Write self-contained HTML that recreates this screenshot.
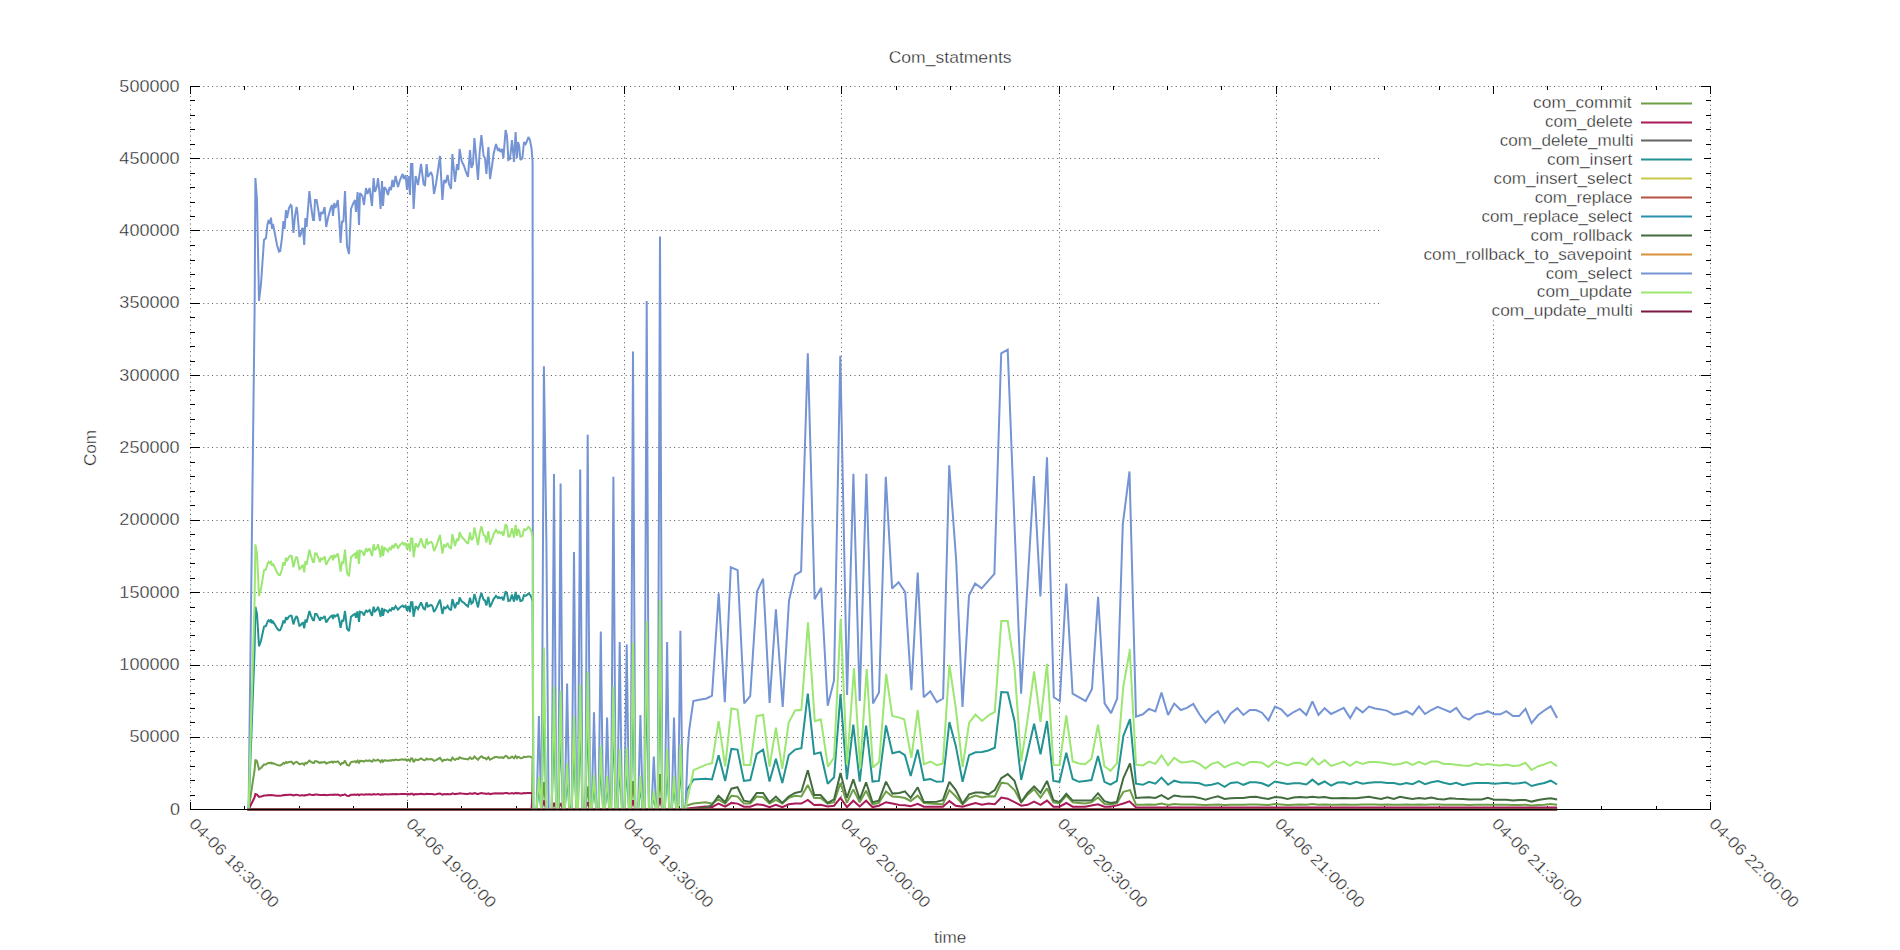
<!DOCTYPE html><html><head><meta charset="utf-8"><style>html,body{margin:0;padding:0;background:#fff;}svg{display:block;}text{font-family:"Liberation Sans",sans-serif;fill:#1a1a1a;stroke:#fff;stroke-width:0.35px;}</style></head><body>
<svg width="1900" height="950" viewBox="0 0 1900 950">
<rect x="0" y="0" width="1900" height="950" fill="#fff"/>
<path d="M190.1,809.5H1710.5M190.1,737.5H1710.5M190.1,665.5H1710.5M190.1,592.5H1710.5M190.1,520.5H1710.5M190.1,447.5H1710.5M190.1,375.5H1710.5M190.1,303.5H1710.5M190.1,230.5H1710.5M190.1,158.5H1710.5M190.1,86.5H1710.5M190.5,87.12V809.5M407.5,87.12V809.5M624.5,87.12V809.5M841.5,87.12V809.5M1059.5,87.12V809.5M1276.5,87.12V809.5M1493.5,87.12V809.5M1710.5,87.12V809.5" stroke="#555" stroke-width="1" stroke-dasharray="1,3.4" fill="none"/>
<path d="M190,809.5h10M1711,809.5h-10M190,795.5h5M1711,795.5h-5M190,780.5h5M1711,780.5h-5M190,766.5h5M1711,766.5h-5M190,751.5h5M1711,751.5h-5M190,737.5h10M1711,737.5h-10M190,722.5h5M1711,722.5h-5M190,708.5h5M1711,708.5h-5M190,693.5h5M1711,693.5h-5M190,679.5h5M1711,679.5h-5M190,665.5h10M1711,665.5h-10M190,650.5h5M1711,650.5h-5M190,635.5h5M1711,635.5h-5M190,621.5h5M1711,621.5h-5M190,607.5h5M1711,607.5h-5M190,592.5h10M1711,592.5h-10M190,578.5h5M1711,578.5h-5M190,563.5h5M1711,563.5h-5M190,549.5h5M1711,549.5h-5M190,534.5h5M1711,534.5h-5M190,520.5h10M1711,520.5h-10M190,505.5h5M1711,505.5h-5M190,491.5h5M1711,491.5h-5M190,476.5h5M1711,476.5h-5M190,462.5h5M1711,462.5h-5M190,447.5h10M1711,447.5h-10M190,433.5h5M1711,433.5h-5M190,419.5h5M1711,419.5h-5M190,404.5h5M1711,404.5h-5M190,390.5h5M1711,390.5h-5M190,375.5h10M1711,375.5h-10M190,361.5h5M1711,361.5h-5M190,346.5h5M1711,346.5h-5M190,332.5h5M1711,332.5h-5M190,317.5h5M1711,317.5h-5M190,303.5h10M1711,303.5h-10M190,288.5h5M1711,288.5h-5M190,274.5h5M1711,274.5h-5M190,260.5h5M1711,260.5h-5M190,245.5h5M1711,245.5h-5M190,230.5h10M1711,230.5h-10M190,216.5h5M1711,216.5h-5M190,202.5h5M1711,202.5h-5M190,187.5h5M1711,187.5h-5M190,173.5h5M1711,173.5h-5M190,158.5h10M1711,158.5h-10M190,144.5h5M1711,144.5h-5M190,129.5h5M1711,129.5h-5M190,115.5h5M1711,115.5h-5M190,100.5h5M1711,100.5h-5M190,86.5h10M1711,86.5h-10M190.5,810v-8M190.5,86v8M244.5,810v-4M244.5,86v4M299.5,810v-4M299.5,86v4M353.5,810v-4M353.5,86v4M407.5,810v-8M407.5,86v8M461.5,810v-4M461.5,86v4M516.5,810v-4M516.5,86v4M570.5,810v-4M570.5,86v4M624.5,810v-8M624.5,86v8M679.5,810v-4M679.5,86v4M733.5,810v-4M733.5,86v4M787.5,810v-4M787.5,86v4M841.5,810v-8M841.5,86v8M896.5,810v-4M896.5,86v4M950.5,810v-4M950.5,86v4M1004.5,810v-4M1004.5,86v4M1059.5,810v-8M1059.5,86v8M1113.5,810v-4M1113.5,86v4M1167.5,810v-4M1167.5,86v4M1221.5,810v-4M1221.5,86v4M1276.5,810v-8M1276.5,86v8M1330.5,810v-4M1330.5,86v4M1384.5,810v-4M1384.5,86v4M1439.5,810v-4M1439.5,86v4M1493.5,810v-8M1493.5,86v8M1547.5,810v-4M1547.5,86v4M1601.5,810v-4M1601.5,86v4M1656.5,810v-4M1656.5,86v4M1710.5,810v-8M1710.5,86v8" stroke="#000" stroke-width="1" fill="none"/>
<polyline points="248.6,809.5 254.6,770.0 255.4,759.6 257.0,761.3 259.0,769.3 261.0,768.0 264.0,764.5 266.0,764.4 267.4,763.3 268.6,762.9 270.0,763.2 271.0,762.7 272.0,763.6 273.0,763.2 274.6,763.9 277.0,764.9 279.0,765.4 280.2,765.4 282.0,764.4 283.4,763.0 284.6,763.6 286.0,762.1 287.0,762.8 289.0,762.0 290.6,761.7 291.6,761.8 293.4,764.0 295.0,762.6 296.6,761.9 297.4,762.3 299.4,764.3 300.6,764.1 302.0,763.6 303.0,763.6 304.2,764.9 305.4,762.8 306.6,763.5 309.4,760.6 311.0,761.8 313.0,762.9 314.0,762.9 315.0,761.3 316.6,761.3 318.0,762.0 320.0,763.0 321.0,762.3 322.6,762.5 324.6,761.9 326.2,763.5 328.0,762.8 330.6,762.0 332.0,761.7 333.0,762.6 334.2,761.6 335.4,762.0 336.6,761.7 337.8,761.3 339.0,762.6 340.6,764.7 342.0,763.0 343.4,763.1 345.0,760.6 347.0,765.0 349.0,765.6 351.0,762.1 353.0,761.7 355.0,761.3 356.0,762.3 357.6,760.7 359.0,763.3 360.0,760.8 362.4,761.0 364.0,761.7 366.0,760.4 367.4,760.9 369.6,760.4 372.0,761.8 373.6,759.6 375.0,760.7 377.0,760.2 378.0,759.6 379.4,760.7 380.6,762.1 382.0,759.8 383.0,761.8 384.4,760.3 386.4,760.6 388.0,761.0 389.6,760.3 391.0,760.6 392.4,759.8 393.6,760.3 395.6,759.5 398.0,760.3 400.0,759.8 402.6,759.3 404.0,759.7 405.6,759.4 407.0,760.6 408.4,759.5 410.0,761.0 411.0,758.5 412.4,758.5 413.6,762.1 415.6,759.5 418.0,760.2 421.0,758.5 423.6,760.1 425.0,760.2 426.6,758.5 428.0,759.5 431.0,759.1 432.4,759.5 434.0,760.9 436.0,760.1 438.0,759.0 440.0,757.9 442.4,761.3 444.0,759.8 445.6,760.0 447.6,759.4 449.0,760.1 451.0,760.5 452.4,757.7 455.0,759.9 457.0,758.5 458.4,759.0 459.6,757.3 461.6,758.3 464.0,758.7 466.0,759.1 468.0,759.5 470.0,757.4 471.4,758.8 473.0,758.5 474.4,756.5 476.0,757.9 478.0,759.8 479.6,757.6 481.4,756.2 483.6,757.9 485.0,758.0 486.4,759.3 488.4,757.2 490.0,759.7 492.0,758.7 493.6,757.7 496.0,756.9 498.0,757.5 499.0,757.2 500.4,757.6 502.0,757.3 503.4,758.0 505.6,755.8 507.0,756.3 508.4,758.2 510.0,758.1 512.0,756.6 514.0,758.3 515.6,756.0 517.0,758.0 518.0,756.8 519.2,757.1 520.4,758.2 522.4,758.0 524.0,756.8 525.6,756.9 527.0,756.7 528.4,756.4 530.0,756.6 531.6,757.3 532.6,758.3 532.0,809.5 541.6,809.5 543.9,782.0 546.2,809.5 585.4,809.5 587.7,786.3 590.0,809.5 630.7,809.5 633.0,781.1 635.3,809.5 657.7,809.5 660.0,774.0 662.3,809.5 685.5,809.5 685.7,805.7 693.5,803.6 705.6,802.2 712.0,803.6 718.4,799.3 725.2,803.6 731.4,795.8 737.5,796.5 743.9,803.6 750.3,803.6 756.7,796.5 763.1,797.2 769.5,803.6 775.9,800.0 782.3,803.6 788.7,797.9 795.1,795.8 801.4,796.5 807.8,785.1 814.2,797.9 820.6,797.9 827.7,803.6 834.1,802.2 840.5,783.0 846.9,802.9 853.3,789.4 859.7,802.2 866.1,790.8 872.5,804.3 878.9,802.9 886.0,791.5 892.4,796.5 899.4,797.0 904.9,798.0 910.7,801.0 917.7,795.6 923.9,803.0 930.4,803.4 936.8,803.9 942.9,804.3 949.4,790.1 955.8,796.5 962.6,804.3 969.1,798.0 975.5,795.6 982.0,797.5 988.4,796.2 994.8,796.5 1001.3,782.7 1007.7,783.6 1014.5,790.1 1021.2,802.4 1027.6,794.7 1034.1,789.2 1040.5,797.5 1047.0,788.3 1053.4,802.4 1059.5,803.4 1066.3,795.6 1072.7,802.4 1079.0,803.0 1085.1,803.5 1091.5,802.4 1098.0,797.5 1104.4,803.9 1110.5,804.5 1116.9,803.0 1123.4,791.9 1130.0,790.1 1136.0,804.7 1142.9,804.7 1149.0,804.4 1155.4,804.7 1161.5,803.6 1168.1,805.1 1174.2,804.0 1180.8,804.4 1186.9,804.4 1193.3,804.4 1199.4,804.7 1205.5,805.1 1211.6,804.7 1218.0,804.4 1224.6,805.1 1230.7,804.7 1237.3,804.7 1243.4,804.7 1249.8,804.4 1255.9,804.4 1262.0,804.7 1268.4,805.1 1275.0,804.0 1281.1,804.4 1287.6,805.1 1293.7,804.7 1299.8,804.4 1306.3,804.7 1312.4,804.0 1318.5,804.7 1324.6,804.4 1331.1,804.8 1337.6,804.7 1343.7,804.4 1350.1,804.7 1356.3,804.7 1362.6,804.4 1369.0,804.4 1375.1,804.5 1381.2,804.7 1387.3,804.5 1393.9,804.8 1400.0,804.7 1406.4,804.5 1412.5,804.7 1418.9,804.4 1425.0,804.7 1431.3,804.5 1437.7,804.4 1443.8,804.7 1450.2,804.7 1456.3,804.8 1462.9,804.8 1469.0,805.0 1475.6,804.8 1481.7,804.8 1487.8,804.7 1494.2,804.8 1500.3,804.8 1506.4,804.7 1513.0,805.0 1519.1,805.0 1525.5,804.7 1531.6,805.4 1538.2,805.0 1544.3,804.7 1550.7,804.0 1557.1,804.7" fill="none" stroke="#6e9e46" stroke-width="2" stroke-linejoin="miter" stroke-miterlimit="2"/>
<polyline points="248.6,809.5 254.6,797.3 255.4,794.0 257.0,794.6 259.0,797.0 261.0,796.6 264.0,795.5 266.0,795.5 267.4,795.2 268.6,795.1 270.0,795.2 271.0,795.0 272.0,795.3 273.0,795.2 274.6,795.4 277.0,795.7 279.0,795.8 280.2,795.8 282.0,795.5 283.4,795.1 284.6,795.3 286.0,794.8 287.0,795.0 289.0,794.8 290.6,794.7 291.6,794.7 293.4,795.4 295.0,795.0 296.6,794.7 297.4,794.9 299.4,795.5 300.6,795.4 302.0,795.3 303.0,795.3 304.2,795.7 305.4,795.0 306.6,795.2 309.4,794.3 311.0,794.7 313.0,795.1 314.0,795.1 315.0,794.6 316.6,794.6 318.0,794.8 320.0,795.1 321.0,794.9 322.6,794.9 324.6,794.7 326.2,795.2 328.0,795.0 330.6,794.8 332.0,794.7 333.0,795.0 334.2,794.6 335.4,794.8 336.6,794.7 337.8,794.6 339.0,795.0 340.6,795.6 342.0,795.1 343.4,795.1 345.0,794.3 347.0,795.7 349.0,795.9 351.0,794.8 353.0,794.7 355.0,794.6 356.0,794.9 357.6,794.4 359.0,795.2 360.0,794.4 362.4,794.5 364.0,794.7 366.0,794.3 367.4,794.4 369.6,794.3 372.0,794.7 373.6,794.0 375.0,794.4 377.0,794.2 378.0,794.0 379.4,794.4 380.6,794.8 382.0,794.1 383.0,794.7 384.4,794.2 386.4,794.3 388.0,794.4 389.6,794.2 391.0,794.3 392.4,794.1 393.6,794.2 395.6,794.0 398.0,794.2 400.0,794.1 402.6,793.9 404.0,794.1 405.6,794.0 407.0,794.3 408.4,794.0 410.0,794.4 411.0,793.7 412.4,793.7 413.6,794.8 415.6,794.0 418.0,794.2 421.0,793.7 423.6,794.2 425.0,794.2 426.6,793.7 428.0,794.0 431.0,793.9 432.4,794.0 434.0,794.4 436.0,794.2 438.0,793.8 440.0,793.5 442.4,794.6 444.0,794.1 445.6,794.2 447.6,794.0 449.0,794.2 451.0,794.3 452.4,793.4 455.0,794.1 457.0,793.7 458.4,793.8 459.6,793.3 461.6,793.6 464.0,793.7 466.0,793.9 468.0,794.0 470.0,793.3 471.4,793.8 473.0,793.7 474.4,793.0 476.0,793.5 478.0,794.1 479.6,793.4 481.4,793.0 483.6,793.5 485.0,793.5 486.4,793.9 488.4,793.3 490.0,794.1 492.0,793.7 493.6,793.4 496.0,793.2 498.0,793.4 499.0,793.3 500.4,793.4 502.0,793.3 503.4,793.5 505.6,792.9 507.0,793.0 508.4,793.6 510.0,793.6 512.0,793.1 514.0,793.6 515.6,792.9 517.0,793.5 518.0,793.1 519.2,793.2 520.4,793.6 522.4,793.5 524.0,793.1 525.6,793.2 527.0,793.1 528.4,793.0 530.0,793.1 531.6,793.3 532.6,793.6 531.5,809.5 541.6,809.5 543.9,800.6 546.2,809.5 551.7,809.5 554.0,802.8 556.3,809.5 558.3,809.5 560.6,803.0 562.9,809.5 585.4,809.5 587.7,802.0 590.0,809.5 630.7,809.5 633.0,800.3 635.3,809.5 657.7,809.5 660.0,798.0 662.3,809.5 685.5,809.5 685.7,808.6 705.6,806.4 712.0,807.1 718.4,803.6 725.2,806.7 731.4,802.9 737.5,803.6 743.9,806.7 750.3,806.7 756.7,804.3 763.1,805.0 769.5,807.1 775.9,804.7 782.3,807.1 788.7,804.3 795.1,803.6 801.4,803.6 807.8,800.0 814.2,805.0 820.6,804.7 827.7,806.4 834.1,805.7 840.5,797.9 846.9,807.1 853.3,800.7 859.7,806.4 866.1,800.7 872.5,807.1 878.9,805.7 886.0,802.2 892.4,803.6 899.4,805.0 904.9,805.2 910.7,806.2 917.7,803.9 923.9,806.7 930.4,806.7 936.8,806.7 942.9,806.7 949.4,801.1 955.8,805.7 962.6,806.7 969.1,804.8 975.5,803.0 982.0,804.8 988.4,803.5 994.8,804.3 1001.3,797.5 1007.7,798.7 1014.5,802.1 1021.2,805.7 1027.6,804.8 1034.1,801.7 1040.5,804.8 1047.0,800.6 1053.4,806.7 1059.5,806.7 1066.3,803.0 1072.7,806.7 1079.0,806.7 1085.1,806.7 1091.5,805.4 1098.0,804.3 1104.4,806.7 1110.5,806.7 1116.9,805.4 1123.4,803.5 1130.0,801.1 1129.9,801.6 1136.0,807.4 1142.9,807.4 1149.0,807.4 1155.4,807.4 1161.5,807.4 1168.1,807.4 1174.2,807.4 1180.8,807.4 1186.9,807.4 1193.3,807.4 1199.4,807.4 1205.5,807.4 1211.6,807.4 1218.0,807.4 1224.6,807.4 1230.7,807.4 1237.3,807.4 1243.4,807.4 1249.8,807.4 1255.9,807.4 1262.0,807.4 1268.4,807.4 1275.0,807.4 1281.1,807.4 1287.6,807.4 1293.7,807.4 1299.8,807.4 1306.3,807.4 1312.4,807.4 1318.5,807.4 1324.6,807.4 1331.1,807.4 1337.6,807.4 1343.7,807.4 1350.1,807.4 1356.3,807.4 1362.6,807.4 1369.0,807.4 1375.1,807.4 1381.2,807.4 1387.3,807.4 1393.9,807.4 1400.0,807.4 1406.4,807.4 1412.5,807.4 1418.9,807.4 1425.0,807.4 1431.3,807.4 1437.7,807.4 1443.8,807.4 1450.2,807.4 1456.3,807.4 1462.9,807.4 1469.0,807.4 1475.6,807.4 1481.7,807.4 1487.8,807.4 1494.2,807.4 1500.3,807.4 1506.4,807.4 1513.0,807.4 1519.1,807.4 1525.5,807.4 1531.6,807.4 1538.2,807.4 1544.3,807.4 1550.7,807.4 1557.1,807.4" fill="none" stroke="#a81a58" stroke-width="2" stroke-linejoin="miter" stroke-miterlimit="2"/>
<polyline points="247.5,809.5 1557.1,809.5" fill="none" stroke="#646464" stroke-width="2" stroke-linejoin="miter" stroke-miterlimit="2"/>
<polyline points="248.6,809.5 254.6,649.2 255.4,606.8 257.0,613.9 259.0,646.3 261.0,640.8 264.0,626.7 266.0,626.0 267.4,621.9 268.6,620.3 270.0,621.6 271.0,619.5 272.0,623.2 273.0,621.6 274.6,624.1 277.0,628.3 279.0,630.4 280.2,630.2 282.0,626.0 283.4,620.6 284.6,623.2 286.0,617.1 287.0,619.6 289.0,616.4 290.6,615.5 291.6,615.8 293.4,624.4 295.0,619.0 296.6,616.1 297.4,617.7 299.4,625.7 300.6,625.1 302.0,623.2 303.0,622.8 304.2,628.3 305.4,619.6 306.6,622.5 309.4,611.0 311.0,615.8 313.0,620.3 314.0,620.3 315.0,613.9 316.6,613.9 318.0,616.4 320.0,620.6 321.0,617.7 322.6,618.3 324.6,616.1 326.2,622.5 328.0,619.6 330.6,616.4 332.0,615.5 333.0,619.0 334.2,614.8 335.4,616.4 336.6,615.5 337.8,613.9 339.0,619.0 340.6,627.7 342.0,620.6 343.4,620.9 345.0,611.0 347.0,628.6 349.0,631.2 351.0,616.7 353.0,615.1 355.0,613.9 356.0,617.7 357.6,611.3 359.0,621.9 360.0,611.6 362.4,612.6 364.0,615.5 366.0,610.0 367.4,611.9 369.6,610.0 372.0,615.8 373.6,606.8 375.0,611.3 377.0,609.4 378.0,606.8 379.4,611.3 380.6,616.7 382.0,607.8 383.0,615.8 384.4,609.7 386.4,610.6 388.0,612.2 389.6,609.7 391.0,610.6 392.4,607.4 393.6,609.7 395.6,606.1 398.0,609.7 400.0,607.4 402.6,605.5 404.0,607.1 405.6,605.8 407.0,610.6 408.4,606.1 410.0,612.2 411.0,602.3 412.4,602.3 413.6,616.7 415.6,606.1 418.0,609.0 421.0,602.3 423.6,608.7 425.0,609.4 426.6,602.3 428.0,606.5 431.0,604.9 432.4,606.1 434.0,611.9 436.0,608.7 438.0,604.2 440.0,599.7 442.4,613.9 444.0,607.4 445.6,608.4 447.6,605.8 449.0,608.7 451.0,610.3 452.4,599.1 455.0,608.1 457.0,602.3 458.4,604.2 459.6,597.5 461.6,601.3 464.0,602.9 466.0,604.9 468.0,606.5 470.0,597.8 471.4,603.6 473.0,602.3 474.4,593.9 476.0,599.7 478.0,607.4 479.6,598.8 481.4,593.0 483.6,599.7 485.0,600.4 486.4,605.5 488.4,596.8 490.0,607.1 492.0,602.9 493.6,599.1 496.0,595.9 498.0,598.1 499.0,597.2 500.4,598.4 502.0,597.5 503.4,600.4 505.6,591.4 507.0,593.3 508.4,601.0 510.0,600.7 512.0,594.6 514.0,601.7 515.6,592.0 517.0,600.4 518.0,595.2 519.2,596.5 520.4,601.0 522.4,600.4 524.0,595.2 525.6,595.9 527.0,594.9 528.4,593.6 530.0,594.6 531.6,597.5 532.6,601.7 533.4,809.5 536.6,809.5 538.9,786.1 541.2,809.5 541.6,809.5 543.9,692.9 546.2,809.5 551.7,809.5 554.0,721.0 556.3,809.5 558.3,809.5 560.6,724.0 562.9,809.5 564.8,809.5 567.1,776.3 569.4,809.5 571.7,809.5 574.0,742.2 576.3,809.5 577.9,809.5 580.2,719.5 582.5,809.5 585.4,809.5 587.7,710.4 590.0,809.5 591.7,809.5 594.0,784.7 596.3,809.5 598.5,809.5 600.8,763.4 603.1,809.5 604.8,809.5 607.1,785.4 609.4,809.5 611.1,809.5 613.4,721.0 615.7,809.5 617.4,809.5 619.7,765.7 622.0,809.5 624.4,809.5 626.7,764.9 629.0,809.5 630.7,809.5 633.0,689.2 635.3,809.5 638.1,809.5 640.4,785.4 642.7,809.5 644.4,809.5 646.7,674.0 649.0,809.5 651.5,809.5 653.8,796.0 656.1,809.5 657.7,809.5 660.0,658.7 662.3,809.5 664.8,809.5 667.1,765.7 669.4,809.5 671.7,809.5 674.0,785.4 676.3,809.5 678.1,809.5 680.4,762.7 682.7,809.5 685.5,809.5 686.7,790.4 693.5,779.4 705.6,778.7 712.0,779.4 718.6,755.3 725.2,780.9 731.4,748.9 737.5,749.6 743.9,780.9 750.3,780.1 756.7,753.9 763.1,749.6 769.5,781.6 775.9,758.8 782.3,783.0 788.7,755.3 795.1,749.6 801.4,748.2 807.8,693.5 814.2,753.9 820.6,752.4 827.7,783.7 834.1,777.3 840.5,694.2 846.9,779.4 853.3,724.7 859.7,781.6 866.1,725.5 872.5,781.6 878.9,780.9 886.0,725.5 892.4,753.2 899.4,751.6 904.9,755.2 910.7,775.9 917.7,749.6 923.9,780.0 930.4,779.0 936.8,781.8 942.9,781.4 949.4,722.0 955.8,745.9 962.6,781.8 969.1,755.1 975.5,752.3 982.0,752.0 988.4,750.5 994.8,747.7 1001.3,692.1 1007.7,692.5 1014.5,721.0 1021.2,780.0 1027.6,752.3 1034.1,723.8 1040.5,754.2 1047.0,721.0 1053.4,780.9 1059.5,781.8 1066.3,752.7 1072.7,779.0 1079.0,781.8 1085.1,780.9 1091.5,780.0 1098.0,756.0 1104.4,781.8 1110.5,784.6 1116.9,780.9 1123.4,735.8 1130.0,719.2 1136.0,783.7 1142.9,784.8 1149.0,781.8 1155.4,783.7 1161.5,777.6 1168.1,784.8 1174.2,780.7 1180.8,782.5 1186.9,782.5 1193.3,782.7 1199.4,783.3 1205.5,785.6 1211.6,784.8 1218.0,783.0 1224.6,786.8 1230.7,783.0 1237.3,782.2 1243.4,784.8 1249.8,782.2 1255.9,782.2 1262.0,783.3 1268.4,786.0 1275.0,781.5 1281.1,782.7 1287.6,784.0 1293.7,783.3 1299.8,783.3 1306.3,784.5 1312.4,779.6 1318.5,784.5 1324.6,781.5 1331.1,785.6 1337.6,782.5 1343.7,782.2 1350.1,784.2 1356.3,781.8 1362.6,783.7 1369.0,782.7 1375.1,782.2 1381.2,782.2 1387.3,783.0 1393.9,783.0 1400.0,784.5 1406.4,783.0 1412.5,784.2 1418.9,781.1 1425.0,784.2 1431.3,782.2 1437.7,781.1 1443.8,782.7 1450.2,784.2 1456.3,782.7 1462.9,785.3 1469.0,783.7 1475.6,783.0 1481.7,783.0 1487.8,783.0 1494.2,783.7 1500.3,783.3 1506.4,782.7 1513.0,783.7 1519.1,783.3 1525.5,782.2 1531.6,786.0 1538.2,784.2 1544.3,783.0 1550.7,780.7 1557.1,784.5" fill="none" stroke="#229292" stroke-width="2" stroke-linejoin="miter" stroke-miterlimit="2"/>
<polyline points="247.5,809.5 1557.1,809.5" fill="none" stroke="#c6c84a" stroke-width="2" stroke-linejoin="miter" stroke-miterlimit="2"/>
<polyline points="247.5,809.5 1557.1,809.5" fill="none" stroke="#b85244" stroke-width="2" stroke-linejoin="miter" stroke-miterlimit="2"/>
<polyline points="247.5,809.5 1557.1,809.5" fill="none" stroke="#2a90b0" stroke-width="2" stroke-linejoin="miter" stroke-miterlimit="2"/>
<polyline points="247.5,809.5 685.5,809.5 705.6,807.8 712.0,805.0 718.4,795.8 725.2,802.2 731.4,788.7 737.5,787.2 743.9,800.7 750.3,801.9 756.7,792.9 763.1,792.9 769.5,802.2 775.9,796.5 782.3,802.9 788.7,796.5 795.1,792.9 801.4,791.5 807.8,770.2 814.2,795.1 820.6,795.1 827.7,802.9 834.1,799.3 840.5,773.0 846.9,797.9 853.3,779.4 859.7,799.3 866.1,782.3 872.5,802.2 878.9,800.7 886.0,781.6 892.4,793.6 899.4,792.9 904.9,791.4 910.7,797.9 917.7,787.3 923.9,802.1 930.4,802.1 936.8,801.7 942.9,800.2 949.4,781.8 955.8,790.1 962.6,803.5 969.1,794.3 975.5,792.5 982.0,792.5 988.4,794.3 994.8,790.1 1001.3,778.1 1007.7,774.1 1014.5,780.9 1021.2,802.1 1027.6,792.9 1034.1,786.4 1040.5,792.9 1047.0,780.9 1053.4,800.2 1059.5,802.1 1066.3,793.8 1072.7,800.6 1079.0,800.6 1085.1,800.6 1091.5,800.6 1098.0,793.2 1104.4,801.1 1110.5,803.0 1116.9,802.1 1123.4,778.1 1130.0,763.4 1136.0,797.9 1142.9,797.5 1149.0,797.2 1155.4,797.9 1161.5,795.2 1168.1,799.0 1174.2,795.5 1180.8,796.4 1186.9,796.7 1193.3,796.7 1199.4,797.9 1205.5,799.8 1211.6,797.9 1218.0,796.4 1224.6,799.0 1230.7,798.2 1237.3,797.9 1243.4,797.9 1249.8,797.0 1255.9,796.7 1262.0,797.9 1268.4,799.0 1275.0,797.0 1281.1,797.5 1287.6,799.0 1293.7,797.5 1299.8,797.0 1306.3,797.5 1312.4,796.7 1318.5,797.5 1324.6,797.0 1331.1,798.2 1337.6,798.2 1343.7,797.9 1350.1,798.2 1356.3,798.2 1362.6,797.5 1369.0,796.7 1375.1,797.9 1381.2,799.0 1387.3,797.2 1393.9,799.0 1400.0,796.7 1406.4,797.9 1412.5,799.0 1418.9,797.9 1425.0,798.7 1431.3,797.5 1437.7,799.0 1443.8,799.5 1450.2,798.2 1456.3,798.7 1462.9,799.0 1469.0,799.5 1475.6,799.5 1481.7,799.5 1487.8,797.9 1494.2,799.8 1500.3,799.8 1506.4,799.8 1513.0,800.5 1519.1,800.1 1525.5,800.1 1531.6,801.6 1538.2,800.1 1544.3,799.0 1550.7,798.2 1557.1,799.5" fill="none" stroke="#426c3e" stroke-width="2" stroke-linejoin="miter" stroke-miterlimit="2"/>
<polyline points="247.5,809.5 1557.1,809.5" fill="none" stroke="#d8923a" stroke-width="2" stroke-linejoin="miter" stroke-miterlimit="2"/>
<polyline points="248.6,809.5 254.6,310.0 255.4,178.0 257.0,200.0 259.0,301.0 261.0,284.0 264.0,240.0 266.0,238.0 267.4,225.0 268.6,220.0 270.0,224.0 271.0,217.6 272.0,229.0 273.0,224.0 274.6,232.0 277.0,245.0 279.0,251.6 280.2,251.0 282.0,238.0 283.4,221.0 284.6,229.0 286.0,210.0 287.0,218.0 289.0,208.0 290.6,205.0 291.6,206.0 293.4,233.0 295.0,216.0 296.6,207.0 297.4,212.0 299.4,237.0 300.6,235.0 302.0,229.0 303.0,228.0 304.2,245.0 305.4,218.0 306.6,227.0 309.4,191.0 311.0,206.0 313.0,220.0 314.0,220.0 315.0,200.0 316.6,200.0 318.0,208.0 320.0,221.0 321.0,212.0 322.6,214.0 324.6,207.0 326.2,227.0 328.0,218.0 330.6,208.0 332.0,205.0 333.0,216.0 334.2,203.0 335.4,208.0 336.6,205.0 337.8,200.0 339.0,216.0 340.6,243.0 342.0,221.0 343.4,222.0 345.0,191.0 347.0,246.0 349.0,254.0 351.0,209.0 353.0,204.0 355.0,200.0 356.0,212.0 357.6,192.0 359.0,225.0 360.0,193.0 362.4,196.0 364.0,205.0 366.0,188.0 367.4,194.0 369.6,188.0 372.0,206.0 373.6,178.0 375.0,192.0 377.0,186.0 378.0,178.0 379.4,192.0 380.6,209.0 382.0,181.0 383.0,206.0 384.4,187.0 386.4,190.0 388.0,195.0 389.6,187.0 391.0,190.0 392.4,180.0 393.6,187.0 395.6,176.0 398.0,187.0 400.0,180.0 402.6,174.0 404.0,179.0 405.6,175.0 407.0,190.0 408.4,176.0 410.0,195.0 411.0,164.0 412.4,164.0 413.6,209.0 415.6,176.0 418.0,185.0 421.0,164.0 423.6,184.0 425.0,186.0 426.6,164.0 428.0,177.0 431.0,172.0 432.4,176.0 434.0,194.0 436.0,184.0 438.0,170.0 440.0,156.0 442.4,200.0 444.0,180.0 445.6,183.0 447.6,175.0 449.0,184.0 451.0,189.0 452.4,154.0 455.0,182.0 457.0,164.0 458.4,170.0 459.6,149.0 461.6,161.0 464.0,166.0 466.0,172.0 468.0,177.0 470.0,150.0 471.4,168.0 473.0,164.0 474.4,138.0 476.0,156.0 478.0,180.0 479.6,153.0 481.4,135.0 483.6,156.0 485.0,158.0 486.4,174.0 488.4,147.0 490.0,179.0 492.0,166.0 493.6,154.0 496.0,144.0 498.0,151.0 499.0,148.0 500.4,152.0 502.0,149.0 503.4,158.0 505.6,130.0 507.0,136.0 508.4,160.0 510.0,159.0 512.0,140.0 514.0,162.0 515.6,132.0 517.0,158.0 518.0,142.0 519.2,146.0 520.4,160.0 522.4,158.0 524.0,142.0 525.6,144.0 527.0,141.0 528.4,137.0 530.0,140.0 531.6,149.0 532.6,162.0 533.0,809.5 536.6,809.5 538.9,716.0 541.2,809.5 541.6,809.5 543.9,366.3 546.4,541.9 548.6,809.5 551.7,809.5 554.0,474.1 556.3,809.5 558.3,809.5 560.6,483.6 562.9,809.5 564.8,809.5 567.1,683.4 569.4,809.5 571.7,809.5 574.0,552.0 576.3,809.5 577.9,809.5 580.2,469.5 582.5,809.5 585.4,809.5 587.7,434.7 590.0,809.5 591.7,809.5 594.0,712.3 596.3,809.5 598.5,809.5 600.8,631.4 603.1,809.5 604.8,809.5 607.1,717.5 609.4,809.5 611.1,809.5 613.4,476.8 615.7,809.5 617.4,809.5 619.7,642.0 622.0,809.5 624.4,809.5 626.7,644.5 629.0,809.5 630.7,809.5 633.0,351.6 635.3,809.5 638.1,809.5 640.4,715.0 642.7,809.5 644.4,809.5 646.7,301.0 649.0,809.5 651.5,809.5 653.8,756.5 656.1,809.5 657.7,809.5 660.0,236.4 662.3,809.5 664.8,809.5 667.1,642.0 669.4,809.5 671.7,809.5 674.0,717.5 676.3,809.5 678.1,809.5 680.4,630.8 682.7,809.5 685.5,809.5 687.7,751.0 689.2,730.0 693.3,701.0 699.4,699.8 706.6,698.5 712.0,695.6 718.7,593.2 724.8,702.2 730.8,567.3 737.6,570.2 744.2,703.4 750.2,696.1 757.0,591.5 763.1,578.7 769.6,702.9 775.9,609.4 782.7,707.0 789.0,600.5 795.0,575.1 801.1,571.4 807.8,353.3 814.6,599.3 821.2,587.7 827.7,705.8 834.0,680.4 840.3,355.7 847.1,694.9 853.4,473.7 859.7,701.0 866.4,473.7 873.0,703.4 879.0,692.5 885.8,476.8 892.1,588.4 898.6,582.3 905.2,592.0 911.4,690.1 917.7,572.6 923.7,697.3 930.3,691.3 936.8,702.2 943.1,698.5 949.2,465.4 956.2,560.5 962.5,707.0 969.0,595.6 975.1,583.5 981.6,588.4 994.4,573.8 1001.2,353.3 1007.7,349.7 1021.1,693.7 1033.9,476.1 1040.4,596.4 1047.0,457.4 1053.8,697.3 1059.8,701.0 1066.3,583.5 1072.6,693.7 1079.2,697.3 1085.7,701.0 1092.0,688.9 1098.1,596.9 1104.6,703.4 1111.1,713.1 1117.2,698.5 1122.8,524.2 1129.5,471.5 1136.0,716.6 1142.9,714.3 1149.0,708.9 1155.4,711.5 1161.5,692.6 1168.1,715.0 1174.2,703.6 1180.8,710.0 1186.9,707.9 1193.3,703.9 1199.4,714.3 1205.5,722.7 1211.6,715.8 1218.0,711.2 1224.6,722.7 1230.7,713.5 1237.3,708.2 1243.4,715.0 1249.8,710.0 1255.9,710.0 1262.0,712.7 1268.4,720.4 1275.0,706.6 1281.1,709.4 1287.6,716.1 1293.7,712.0 1299.8,708.9 1306.3,715.0 1312.4,701.3 1318.5,715.0 1324.6,708.2 1331.1,714.0 1337.6,710.9 1343.7,707.9 1350.1,718.1 1356.3,707.4 1362.6,712.4 1369.0,706.6 1375.1,708.5 1381.2,709.4 1387.3,710.9 1393.9,714.6 1400.0,713.5 1406.4,711.2 1412.5,714.6 1418.9,706.3 1425.0,714.0 1431.3,710.0 1437.7,706.9 1443.8,709.4 1450.2,712.0 1456.3,707.9 1462.9,717.0 1469.0,719.6 1475.6,714.6 1481.7,713.5 1487.8,711.2 1494.2,714.3 1500.3,714.3 1506.4,711.2 1513.0,716.1 1519.1,716.1 1525.5,708.9 1531.6,723.1 1538.2,715.0 1544.3,710.5 1550.7,706.3 1557.1,718.1" fill="none" stroke="#7494d4" stroke-width="2" stroke-linejoin="miter" stroke-miterlimit="2"/>
<polyline points="248.6,809.5 254.6,599.7 255.4,544.3 257.0,553.5 259.0,595.9 261.0,588.8 264.0,570.3 266.0,569.5 267.4,564.0 268.6,561.9 270.0,563.6 271.0,560.9 272.0,565.7 273.0,563.6 274.6,567.0 277.0,572.4 279.0,575.2 280.2,574.9 282.0,569.5 283.4,562.3 284.6,565.7 286.0,557.7 287.0,561.1 289.0,556.9 290.6,555.6 291.6,556.0 293.4,567.4 295.0,560.2 296.6,556.5 297.4,558.5 299.4,569.0 300.6,568.2 302.0,565.7 303.0,565.3 304.2,572.4 305.4,561.1 306.6,564.9 309.4,549.7 311.0,556.0 313.0,561.9 314.0,561.9 315.0,553.5 316.6,553.5 318.0,556.9 320.0,562.3 321.0,558.5 322.6,559.4 324.6,556.5 326.2,564.9 328.0,561.1 330.6,556.9 332.0,555.6 333.0,560.2 334.2,554.8 335.4,556.9 336.6,555.6 337.8,553.5 339.0,560.2 340.6,571.6 342.0,562.3 343.4,562.8 345.0,549.7 347.0,572.8 349.0,576.2 351.0,557.3 353.0,555.2 355.0,553.5 356.0,558.5 357.6,550.2 359.0,564.0 360.0,550.6 362.4,551.8 364.0,555.6 366.0,548.5 367.4,551.0 369.6,548.5 372.0,556.0 373.6,544.3 375.0,550.2 377.0,547.6 378.0,544.3 379.4,550.2 380.6,557.3 382.0,545.5 383.0,556.0 384.4,548.0 386.4,549.3 388.0,551.4 389.6,548.0 391.0,549.3 392.4,545.1 393.6,548.0 395.6,543.4 398.0,548.0 400.0,545.1 402.6,542.6 404.0,544.7 405.6,543.0 407.0,549.3 408.4,543.4 410.0,551.4 411.0,538.4 412.4,538.4 413.6,557.3 415.6,543.4 418.0,547.2 421.0,538.4 423.6,546.8 425.0,547.6 426.6,538.4 428.0,543.9 431.0,541.8 432.4,543.4 434.0,551.0 436.0,546.8 438.0,540.9 440.0,535.0 442.4,553.5 444.0,545.1 445.6,546.4 447.6,543.0 449.0,546.8 451.0,548.9 452.4,534.2 455.0,546.0 457.0,538.4 458.4,540.9 459.6,532.1 461.6,537.1 464.0,539.2 466.0,541.8 468.0,543.9 470.0,532.5 471.4,540.1 473.0,538.4 474.4,527.5 476.0,535.0 478.0,545.1 479.6,533.8 481.4,526.2 483.6,535.0 485.0,535.9 486.4,542.6 488.4,531.2 490.0,544.7 492.0,539.2 493.6,534.2 496.0,530.0 498.0,532.9 499.0,531.7 500.4,533.4 502.0,532.1 503.4,535.9 505.6,524.1 507.0,526.6 508.4,536.7 510.0,536.3 512.0,528.3 514.0,537.5 515.6,525.0 517.0,535.9 518.0,529.2 519.2,530.8 520.4,536.7 522.4,535.9 524.0,529.2 525.6,530.0 527.0,528.7 528.4,527.0 530.0,528.3 531.6,532.1 532.6,537.5 533.4,809.5 536.6,809.5 538.9,777.0 541.2,809.5 541.6,809.5 543.9,647.6 546.2,809.5 551.7,809.5 554.0,686.6 556.3,809.5 558.3,809.5 560.6,690.8 562.9,809.5 564.8,809.5 567.1,763.4 569.4,809.5 571.7,809.5 574.0,716.0 576.3,809.5 577.9,809.5 580.2,684.5 582.5,809.5 585.4,809.5 587.7,671.8 590.0,809.5 591.7,809.5 594.0,775.0 596.3,809.5 598.5,809.5 600.8,745.5 603.1,809.5 604.8,809.5 607.1,776.0 609.4,809.5 611.1,809.5 613.4,686.6 615.7,809.5 617.4,809.5 619.7,748.7 622.0,809.5 624.4,809.5 626.7,747.6 629.0,809.5 630.7,809.5 633.0,642.4 635.3,809.5 638.1,809.5 640.4,776.0 642.7,809.5 644.4,809.5 646.7,621.3 649.0,809.5 651.5,809.5 653.8,790.8 656.1,809.5 657.7,809.5 660.0,600.0 662.3,809.5 664.8,809.5 667.1,748.7 669.4,809.5 671.7,809.5 674.0,776.0 676.3,809.5 678.1,809.5 680.4,744.5 682.7,809.5 685.5,809.5 686.3,805.0 693.5,770.2 699.9,767.4 705.6,764.9 712.0,763.1 718.6,721.2 725.2,766.6 731.4,708.4 737.5,709.5 743.9,764.9 750.3,764.9 756.7,716.2 763.1,714.8 769.5,766.6 775.9,727.6 782.3,768.8 788.7,722.6 795.1,710.5 801.4,709.8 808.0,622.3 814.8,721.2 820.8,719.3 828.0,766.7 834.1,757.2 840.7,618.9 847.0,764.8 854.0,668.2 860.2,768.6 866.7,669.1 872.9,767.6 879.2,761.9 886.2,673.9 892.2,715.9 898.5,717.4 904.2,719.3 911.4,757.9 917.7,710.0 923.9,764.3 930.4,761.5 936.8,765.2 942.9,763.4 949.4,664.9 955.8,708.1 962.6,767.1 969.1,722.9 975.5,714.6 982.0,721.0 988.4,715.5 994.8,711.8 1001.3,621.0 1007.7,621.0 1014.5,667.6 1021.2,761.5 1027.6,719.2 1034.1,671.3 1040.5,722.0 1047.0,663.9 1053.4,764.9 1059.5,765.2 1066.3,715.5 1072.7,761.5 1079.0,763.4 1085.1,764.3 1091.5,758.8 1098.0,724.7 1104.4,766.2 1110.5,770.8 1116.9,763.4 1123.4,686.0 1130.0,649.2 1129.7,649.6 1136.0,764.7 1142.9,765.4 1149.0,761.6 1155.4,763.9 1161.5,755.5 1168.1,765.4 1174.2,757.8 1180.8,762.4 1186.9,761.9 1193.3,761.1 1199.4,763.9 1205.5,768.5 1211.6,763.9 1218.0,762.1 1224.6,767.4 1230.7,764.4 1237.3,762.4 1243.4,765.4 1249.8,762.1 1255.9,761.9 1262.0,762.7 1268.4,766.9 1275.0,761.6 1281.1,763.1 1287.6,765.4 1293.7,763.1 1299.8,762.8 1306.3,765.0 1312.4,758.2 1318.5,764.7 1324.6,760.1 1331.1,765.9 1337.6,763.9 1343.7,761.6 1350.1,765.9 1356.3,761.6 1362.6,763.9 1369.0,762.1 1375.1,762.1 1381.2,762.4 1387.3,763.4 1393.9,764.7 1400.0,763.9 1406.4,762.1 1412.5,765.0 1418.9,761.9 1425.0,764.4 1431.3,761.6 1437.7,761.6 1443.8,763.9 1450.2,763.9 1456.3,764.7 1462.9,765.4 1469.0,765.9 1475.6,763.4 1481.7,765.0 1487.8,763.9 1494.2,765.0 1500.3,765.4 1506.4,764.4 1513.0,765.9 1519.1,765.4 1525.5,762.8 1531.6,770.0 1538.2,766.2 1544.3,764.4 1550.7,761.9 1557.1,766.2" fill="none" stroke="#9ce672" stroke-width="2" stroke-linejoin="miter" stroke-miterlimit="2"/>
<polyline points="247.5,809.5 1557.1,809.5" fill="none" stroke="#7a1842" stroke-width="2" stroke-linejoin="miter" stroke-miterlimit="2"/>
<path d="M190,809.5H1711" stroke="#000" stroke-width="1"/>
<rect x="1380" y="94.5" width="324" height="226" fill="#fff"/>
<text x="1533.01" y="107.95" font-size="16" textLength="98.65" lengthAdjust="spacingAndGlyphs">com_commit</text>
<path d="M1641,103.50H1692" stroke="#6e9e46" stroke-width="2"/>
<text x="1544.94" y="126.90" font-size="16" textLength="87.82" lengthAdjust="spacingAndGlyphs">com_delete</text>
<path d="M1641,122.50H1692" stroke="#a81a58" stroke-width="2"/>
<text x="1499.73" y="145.85" font-size="16" textLength="133.77" lengthAdjust="spacingAndGlyphs">com_delete_multi</text>
<path d="M1641,140.50H1692" stroke="#646464" stroke-width="2"/>
<text x="1546.91" y="164.80" font-size="16" textLength="85.36" lengthAdjust="spacingAndGlyphs">com_insert</text>
<path d="M1641,159.50H1692" stroke="#229292" stroke-width="2"/>
<text x="1493.63" y="183.75" font-size="16" textLength="138.32" lengthAdjust="spacingAndGlyphs">com_insert_select</text>
<path d="M1641,178.50H1692" stroke="#c6c84a" stroke-width="2"/>
<text x="1534.73" y="202.70" font-size="16" textLength="97.92" lengthAdjust="spacingAndGlyphs">com_replace</text>
<path d="M1641,197.50H1692" stroke="#b85244" stroke-width="2"/>
<text x="1481.44" y="221.65" font-size="16" textLength="150.88" lengthAdjust="spacingAndGlyphs">com_replace_select</text>
<path d="M1641,216.50H1692" stroke="#2a90b0" stroke-width="2"/>
<text x="1530.62" y="240.60" font-size="16" textLength="101.66" lengthAdjust="spacingAndGlyphs">com_rollback</text>
<path d="M1641,235.50H1692" stroke="#426c3e" stroke-width="2"/>
<text x="1423.53" y="259.55" font-size="16" textLength="208.36" lengthAdjust="spacingAndGlyphs">com_rollback_to_savepoint</text>
<path d="M1641,254.50H1692" stroke="#d8923a" stroke-width="2"/>
<text x="1545.73" y="278.50" font-size="16" textLength="86.18" lengthAdjust="spacingAndGlyphs">com_select</text>
<path d="M1641,273.50H1692" stroke="#7494d4" stroke-width="2"/>
<text x="1536.82" y="297.45" font-size="16" textLength="95.25" lengthAdjust="spacingAndGlyphs">com_update</text>
<path d="M1641,292.50H1692" stroke="#9ce672" stroke-width="2"/>
<text x="1491.62" y="316.40" font-size="16" textLength="141.19" lengthAdjust="spacingAndGlyphs">com_update_multi</text>
<path d="M1641,311.50H1692" stroke="#7a1842" stroke-width="2"/>
<text x="170.00" y="814.50" font-size="16" textLength="10.02" lengthAdjust="spacingAndGlyphs">0</text>
<text x="129.50" y="742.20" font-size="16" textLength="50.06" lengthAdjust="spacingAndGlyphs">50000</text>
<text x="119.38" y="669.90" font-size="16" textLength="60.06" lengthAdjust="spacingAndGlyphs">100000</text>
<text x="119.38" y="597.60" font-size="16" textLength="60.06" lengthAdjust="spacingAndGlyphs">150000</text>
<text x="119.38" y="525.30" font-size="16" textLength="60.06" lengthAdjust="spacingAndGlyphs">200000</text>
<text x="119.38" y="453.00" font-size="16" textLength="60.06" lengthAdjust="spacingAndGlyphs">250000</text>
<text x="119.38" y="380.70" font-size="16" textLength="60.06" lengthAdjust="spacingAndGlyphs">300000</text>
<text x="119.38" y="308.40" font-size="16" textLength="60.06" lengthAdjust="spacingAndGlyphs">350000</text>
<text x="119.38" y="236.10" font-size="16" textLength="60.06" lengthAdjust="spacingAndGlyphs">400000</text>
<text x="119.38" y="163.80" font-size="16" textLength="60.06" lengthAdjust="spacingAndGlyphs">450000</text>
<text x="119.38" y="91.50" font-size="16" textLength="60.06" lengthAdjust="spacingAndGlyphs">500000</text>
<g transform="translate(189.00,825.50) rotate(45)"><text x="-1.11" y="0.00" font-size="16" textLength="119.34" lengthAdjust="spacingAndGlyphs">04-06 18:30:00</text></g>
<g transform="translate(406.14,825.50) rotate(45)"><text x="-1.11" y="0.00" font-size="16" textLength="119.34" lengthAdjust="spacingAndGlyphs">04-06 19:00:00</text></g>
<g transform="translate(623.29,825.50) rotate(45)"><text x="-1.11" y="0.00" font-size="16" textLength="119.34" lengthAdjust="spacingAndGlyphs">04-06 19:30:00</text></g>
<g transform="translate(840.43,825.50) rotate(45)"><text x="-1.11" y="0.00" font-size="16" textLength="119.34" lengthAdjust="spacingAndGlyphs">04-06 20:00:00</text></g>
<g transform="translate(1057.57,825.50) rotate(45)"><text x="-1.11" y="0.00" font-size="16" textLength="119.34" lengthAdjust="spacingAndGlyphs">04-06 20:30:00</text></g>
<g transform="translate(1274.71,825.50) rotate(45)"><text x="-1.11" y="0.00" font-size="16" textLength="119.34" lengthAdjust="spacingAndGlyphs">04-06 21:00:00</text></g>
<g transform="translate(1491.86,825.50) rotate(45)"><text x="-1.11" y="0.00" font-size="16" textLength="119.34" lengthAdjust="spacingAndGlyphs">04-06 21:30:00</text></g>
<g transform="translate(1709.00,825.50) rotate(45)"><text x="-1.11" y="0.00" font-size="16" textLength="119.34" lengthAdjust="spacingAndGlyphs">04-06 22:00:00</text></g>
<text x="888.70" y="62.90" font-size="16" textLength="122.85" lengthAdjust="spacingAndGlyphs">Com_statments</text>
<text x="934.00" y="942.70" font-size="16" textLength="32.35" lengthAdjust="spacingAndGlyphs">time</text>
<g transform="translate(96.1,465) rotate(-90)"><text x="-1.07" y="0.00" font-size="16" textLength="36.21" lengthAdjust="spacingAndGlyphs">Com</text></g>
</svg></body></html>
